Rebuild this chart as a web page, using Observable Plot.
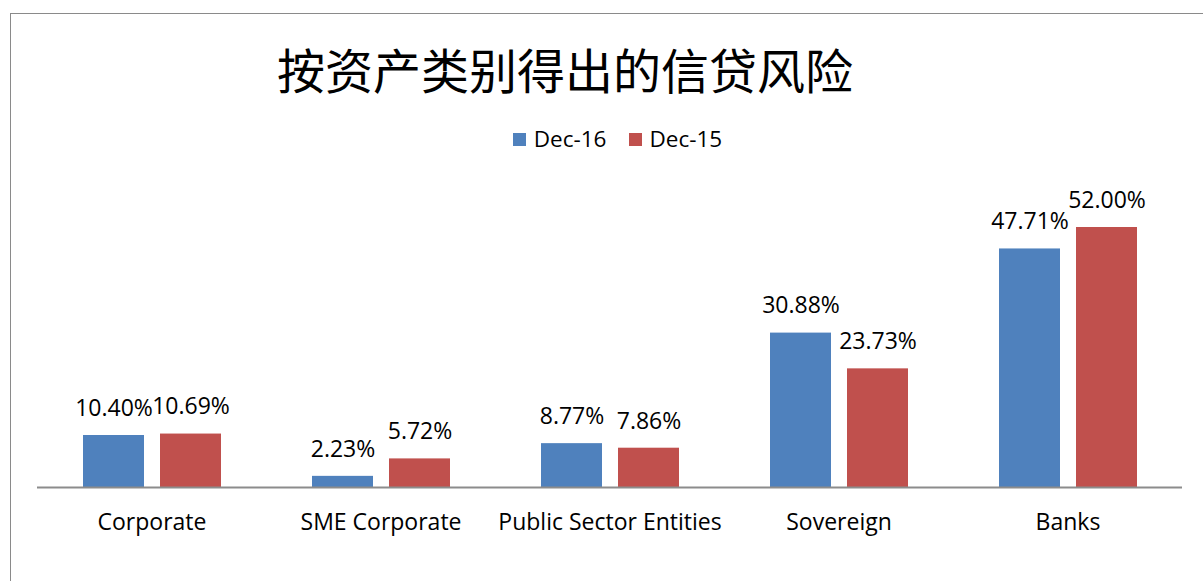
<!DOCTYPE html>
<html>
<head>
<meta charset="utf-8">
<script src="https://cdn.jsdelivr.net/npm/d3@7"></script>
<script src="https://cdn.jsdelivr.net/npm/@observablehq/plot@0.6"></script>
<style>
  html, body { margin: 0; padding: 0; background: #fff; }
  #wrap { position: relative; width: 1203px; height: 581px; overflow: hidden; font-family: "Open Sans", sans-serif; }
  #frame { position: absolute; left: 10px; top: 13px; width: 1300px; height: 700px; border-left: 1px solid #8a8a8a; border-top: 1px solid #8a8a8a; }
  #title { position: absolute; left: 0; width: 1130px; top: 38px; text-align: center; font-family: "Noto Sans CJK SC", sans-serif; font-size: 48px; line-height: 60px; color: #000; }
  #legend { position: absolute; top: 124px; left: 0; width: 1203px; display: flex; justify-content: center; padding-left: 32px; box-sizing: border-box; font-size: 22.5px; line-height: 30px; color: #000; }
  .item { display: flex; align-items: center; margin: 0 11px; }
  .sw { width: 13px; height: 13px; margin-right: 8px; }
  #chart { position: absolute; left: 0; top: 0; }
</style>
</head>
<body>
<div id="wrap">
  <div id="frame"></div>
  <div id="title">按资产类别得出的信贷风险</div>
  <div id="legend"></div>
  <div id="chart"></div>
</div>
<script>
const categories = ["Corporate", "SME Corporate", "Public Sector Entities", "Sovereign", "Banks"];
const seriesNames = ["Dec-16", "Dec-15"];
const dec16 = [10.40, 2.23, 8.77, 30.88, 47.71];
const dec15 = [10.69, 5.72, 7.86, 23.73, 52.00];
const colors = ["#4F81BD", "#C0504D"];

const data = [];
categories.forEach((c, i) => {
  data.push({cat: c, series: seriesNames[0], value: dec16[i]});
  data.push({cat: c, series: seriesNames[1], value: dec15[i]});
});

const legend = document.getElementById("legend");
seriesNames.forEach((s, i) => {
  const it = document.createElement("div");
  it.className = "item";
  it.innerHTML = `<div class="sw" style="background:${colors[i]}"></div><span>${s}</span>`;
  legend.appendChild(it);
});

const chart = Plot.plot({
  width: 1203,
  height: 581,
  marginTop: 187,
  marginBottom: 94,
  marginLeft: 37,
  marginRight: 21,
  style: { fontFamily: "Open Sans", fontSize: "23px", color: "#000", background: "transparent" },
  facet: { data, x: "cat" },
  fx: { domain: categories, padding: 0, label: null, tickSize: 0, tickPadding: 26 },
  x: { domain: seriesNames, paddingInner: 0.208, paddingOuter: 0.59, axis: null },
  y: { domain: [0, 60], axis: null },
  color: { domain: seriesNames, range: colors },
  marks: [
    Plot.barY(data, { x: "series", y: "value", fill: "series" }),
    Plot.text(data, { x: "series", y: "value", text: d => d.value.toFixed(2) + "%", dy: -27, fontSize: 23, fill: "#000" }),
    Plot.ruleY([0], { stroke: "#8c8c8c", strokeWidth: 2 })
  ]
});
document.getElementById("chart").appendChild(chart);
</script>
</body>
</html>
